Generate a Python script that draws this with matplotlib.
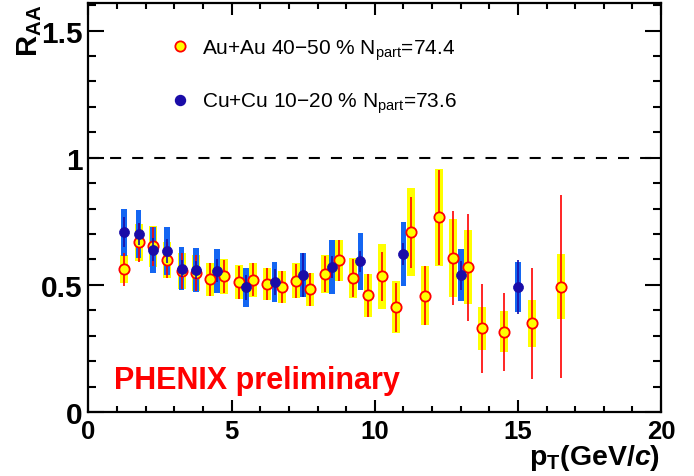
import matplotlib
matplotlib.use('Agg')
import matplotlib.pyplot as plt
from matplotlib.ticker import MultipleLocator, FuncFormatter
from matplotlib.lines import Line2D

plt.rcParams['font.family'] = ['Liberation Sans', 'DejaVu Sans']
plt.rcParams['mathtext.fontset'] = 'custom'
plt.rcParams['mathtext.rm'] = 'Liberation Sans'
plt.rcParams['mathtext.it'] = 'Liberation Sans:italic:bold'
plt.rcParams['mathtext.bf'] = 'Liberation Sans:bold'

# Au+Au 40-50 %
au_pt = [1.25, 1.75, 2.25, 2.75, 3.25, 3.75, 4.25, 4.75, 5.25, 5.75, 6.25, 6.75,
         7.25, 7.75, 8.25, 8.75, 9.25, 9.75, 10.25, 10.75, 11.25, 11.75, 12.25,
         12.75, 13.25, 13.75, 14.5, 15.5, 16.5]
au_raa = [0.562, 0.667, 0.651, 0.598, 0.555, 0.546, 0.522, 0.533, 0.511, 0.520, 0.503, 0.491,
          0.516, 0.483, 0.542, 0.596, 0.527, 0.459, 0.533, 0.412, 0.707, 0.457, 0.765,
          0.605, 0.570, 0.329, 0.316, 0.349, 0.493]
au_sys = [0.055, 0.072, 0.079, 0.072, 0.072, 0.071, 0.066, 0.067, 0.066, 0.067, 0.064, 0.064,
          0.069, 0.065, 0.074, 0.082, 0.079, 0.085, 0.128, 0.103, 0.172, 0.116, 0.192,
          0.153, 0.145, 0.084, 0.081, 0.092, 0.128]
au_stat = [0.065, 0.078, 0.075, 0.070, 0.070, 0.070, 0.065, 0.065, 0.065, 0.065, 0.064, 0.064,
           0.066, 0.065, 0.070, 0.080, 0.076, 0.085, 0.095, 0.097, 0.140, 0.116, 0.187,
           0.185, 0.210, 0.174, 0.154, 0.219, 0.360]

# Cu+Cu 10-20 %
cu_pt = [1.25, 1.75, 2.25, 2.75, 3.25, 3.75, 4.5, 5.5, 6.5, 7.5, 8.5, 9.5, 11.0, 13.0, 15.0]
cu_raa = [0.706, 0.700, 0.638, 0.634, 0.563, 0.559, 0.556, 0.490, 0.511, 0.539, 0.570, 0.592,
          0.621, 0.538, 0.491]
cu_sys = [0.092, 0.094, 0.091, 0.094, 0.084, 0.085, 0.086, 0.075, 0.080, 0.085, 0.106, 0.112,
          0.127, 0.103, 0.098]
cu_stat = [0.059, 0.043, 0.046, 0.046, 0.033, 0.035, 0.045, 0.050, 0.052, 0.087, 0.043, 0.040,
           0.043, 0.057, 0.107]

au_label = 'Au+Au 40\u221250 % $\\mathregular{N_{part}}$=74.4'
cu_label = 'Cu+Cu 10\u221220 % $\\mathregular{N_{part}}$=73.6'

fig = plt.figure(figsize=(6.94, 4.77), dpi=100)
ax = fig.add_axes([0.1275, 0.134, 0.825, 0.857])

# systematic boxes
ax.bar(au_pt, [2 * s for s in au_sys], width=0.28,
       bottom=[r - s for r, s in zip(au_raa, au_sys)], color='#ffff00', zorder=1)
ax.bar(cu_pt, [2 * s for s in cu_sys], width=0.2,
       bottom=[r - s for r, s in zip(cu_raa, cu_sys)], color='#1466f2', zorder=2)

# statistical errors + points
ax.errorbar(au_pt, au_raa, yerr=au_stat, fmt='none', ecolor='#ff0000', elinewidth=1.2,
            capsize=0, zorder=3)
ax.plot(au_pt, au_raa, 'o', ms=7.4, mfc='#ffff00', mec='#ff0000', mew=1.3, zorder=4)
ax.errorbar(cu_pt, cu_raa, yerr=cu_stat, fmt='none', ecolor='#1a0ca8', elinewidth=1.2,
            capsize=0, zorder=5)
ax.plot(cu_pt, cu_raa, 'o', ms=7.2, mfc='#1a0ca8', mec='#1a0ca8', mew=0.5, zorder=6)

ax.axhline(1.0, color='black', lw=1.5, dashes=(5.3, 5.3), zorder=0)

ax.set_xlim(0, 20)
ax.set_ylim(0, 1.607)
ax.xaxis.set_major_locator(MultipleLocator(5))
ax.xaxis.set_minor_locator(MultipleLocator(1))
ax.yaxis.set_major_locator(MultipleLocator(0.5))
ax.yaxis.set_minor_locator(MultipleLocator(0.1))
ax.yaxis.set_major_formatter(FuncFormatter(lambda v, p: '%g' % v))
ax.xaxis.set_major_formatter(FuncFormatter(lambda v, p: '%g' % v))
ax.tick_params(which='both', direction='in', top=True, right=True, width=1.5)
ax.tick_params(axis='x', which='major', length=8.6, pad=5)
ax.tick_params(axis='x', which='minor', length=4.3)
ax.tick_params(axis='y', which='major', length=11.5, pad=4)
ax.tick_params(axis='y', which='minor', length=5.5)
for lab in ax.get_xticklabels():
    lab.set_fontsize(18.5)
    lab.set_fontweight('bold')
for lab in ax.get_yticklabels():
    lab.set_fontsize(21.5)
    lab.set_fontweight('bold')
for sp in ax.spines.values():
    sp.set_linewidth(1.6)

fig.text(0.951, 0.026, '$\\mathregular{p_T}$(GeV/$\\mathit{c}$)', ha='right', va='baseline',
         fontsize=20.5, fontweight='bold')
fig.text(0.022, 0.99, '$\\mathregular{R_{AA}}$', rotation=90, ha='left', va='top',
         fontsize=21, fontweight='bold')

ax.text(0.044, 0.059, 'PHENIX preliminary', transform=ax.transAxes, color='#ff0000',
        fontsize=22, fontweight='bold')

handles = [Line2D([], [], ls='none', marker='o', ms=7.4, mfc='#ffff00', mec='#ff0000', mew=1.3),
           Line2D([], [], ls='none', marker='o', ms=7.2, mfc='#1a0ca8', mec='#1a0ca8')]
ax.legend(handles, [au_label, cu_label], loc='upper left', bbox_to_anchor=(0.1415, 0.9165),
          frameon=False, fontsize=15, handlelength=1.0, handletextpad=0.55,
          labelspacing=1.38, borderpad=0, borderaxespad=0)

fig.savefig('out.png', dpi=100)
